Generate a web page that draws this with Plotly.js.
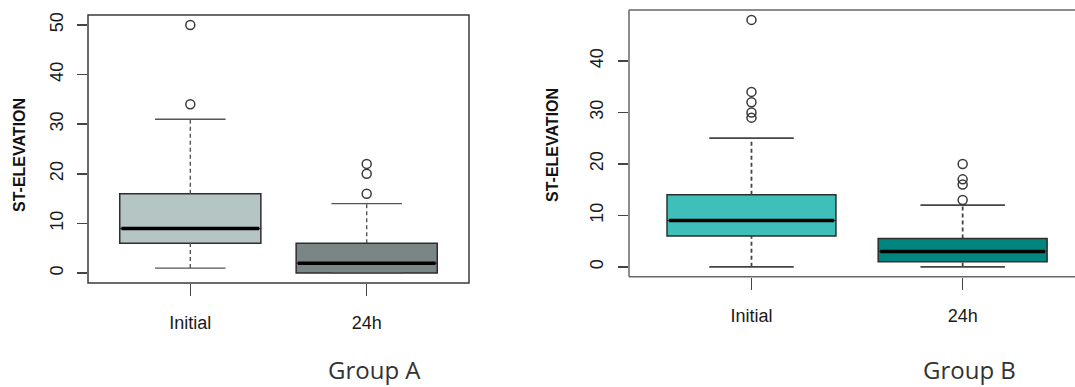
<!DOCTYPE html>
<html>
<head>
<meta charset="utf-8">
<script src="https://cdn.plot.ly/plotly-3.0.1.min.js"></script>
<style>html,body{margin:0;padding:0;background:#fff;}#chart{width:1075px;height:387px;}</style>
</head>
<body>
<div id="chart"></div>
<script>
// ---- data ----
const categories = ['Initial', '24h'];
const positions = [1, 2];
const yTitle = 'ST-ELEVATION';
const groupNames = ['Group A', 'Group B'];

// Group A
const groupA_q1 = [6, 0];
const groupA_median = [9, 2];
const groupA_q3 = [16, 6];
const groupA_lowerWhisker = [1, 0];
const groupA_upperWhisker = [31, 14];
const groupA_outliers = [[34, 50], [16, 20, 22]];

// Group B
const groupB_q1 = [6, 1];
const groupB_median = [9, 3];
const groupB_q3 = [14, 5.5];
const groupB_lowerWhisker = [0, 0];
const groupB_upperWhisker = [25, 12];
const groupB_outliers = [[29, 30, 32, 34, 48], [13, 16, 17, 20]];

// ---- styles ----
const fillA = ['#b5c5c4', '#7a8685'];
const fillB = ['#3ebfb9', '#00867f'];
const boxHalf = 0.4, capHalf = 0.2;

function panel(xa, ya, q1, med, q3, lo, hi, outl, fills, whiskerColor, whiskerWidth) {
  const t = [];
  for (let i = 0; i < categories.length; i++) {
    const p = positions[i];
    t.push({type:'scatter', mode:'lines', xaxis:xa, yaxis:ya, x:[p,p], y:[q3[i],hi[i]],
      line:{color:whiskerColor, width:whiskerWidth, dash:'4px,3px'}, hoverinfo:'skip', showlegend:false});
    t.push({type:'scatter', mode:'lines', xaxis:xa, yaxis:ya, x:[p,p], y:[lo[i],q1[i]],
      line:{color:whiskerColor, width:whiskerWidth, dash:'4px,3px'}, hoverinfo:'skip', showlegend:false});
    t.push({type:'scatter', mode:'lines', xaxis:xa, yaxis:ya, x:[p-capHalf,p+capHalf,null,p-capHalf,p+capHalf], y:[hi[i],hi[i],null,lo[i],lo[i]],
      line:{color:whiskerColor, width:whiskerWidth}, hoverinfo:'skip', showlegend:false});
    t.push({type:'box', xaxis:xa, yaxis:ya, x:[p], q1:[q1[i]], median:[med[i]], q3:[q3[i]],
      lowerfence:[q1[i]], upperfence:[q3[i]], width:2*boxHalf, whiskerwidth:0,
      fillcolor:fills[i], line:{color:'#2e2e2e', width:1.5}, boxpoints:false, hoverinfo:'skip', showlegend:false});
    t.push({type:'scatter', mode:'lines', xaxis:xa, yaxis:ya, x:[p-boxHalf+0.01,p+boxHalf-0.01], y:[med[i],med[i]],
      line:{color:'#000', width:3.5}, hoverinfo:'skip', showlegend:false});
    t.push({type:'scatter', mode:'markers', xaxis:xa, yaxis:ya, x:outl[i].map(()=>p), y:outl[i],
      marker:{symbol:'circle-open', size:9, color:'#3a3a3a', line:{width:1.5, color:'#3a3a3a'}}, hoverinfo:'skip', showlegend:false});
  }
  return t;
}

const traces = [].concat(
  panel('x','y', groupA_q1, groupA_median, groupA_q3, groupA_lowerWhisker, groupA_upperWhisker, groupA_outliers, fillA, '#555', 1.4),
  panel('x2','y2', groupB_q1, groupB_median, groupB_q3, groupB_lowerWhisker, groupB_upperWhisker, groupB_outliers, fillB, '#444', 1.8)
);

const tickFont = {family:'"Liberation Sans", Arial, sans-serif', size:18, color:'#1a1a1a'};
const xCommon = {tickvals:positions, ticktext:categories, showgrid:false, zeroline:false, showline:false,
  ticks:'outside', ticklen:12, tickcolor:'#444', tickwidth:1.5, tickfont:tickFont, fixedrange:true};
const yCommon = {dtick:10, tick0:0, showgrid:false, zeroline:false, showline:false,
  ticks:'outside', ticklen:10, tickcolor:'#444', tickwidth:1.5, tickfont:tickFont, tickangle:-90, fixedrange:true};

const W = 1075, H = 387;
const layout = {
  width:W, height:H, margin:{l:0,r:0,t:0,b:0}, paper_bgcolor:'#fff', plot_bgcolor:'#fff', showlegend:false,
  xaxis: Object.assign({}, xCommon, {domain:[88/W, 469/W], range:[0.42, 2.58], anchor:'y', ticklabelstandoff:11}),
  yaxis: Object.assign({}, yCommon, {domain:[1-283/H, 1-15/H], range:[-2, 52], anchor:'x', ticklabelstandoff:7}),
  xaxis2: Object.assign({}, xCommon, {domain:[629/W, 1], range:[0.42, 2.532], anchor:'y2', ticklabelstandoff:11}),
  yaxis2: Object.assign({}, yCommon, {domain:[1-276.7/H, 1-10/H], range:[-1.92, 49.92], anchor:'x2', ticklabelstandoff:8}),
  shapes: [
    {type:'rect', xref:'x domain', yref:'y domain', x0:0, x1:1, y0:0, y1:1, line:{color:'#3a3a3a', width:1.5}, layer:'above'},
    {type:'line', xref:'x2 domain', yref:'y2 domain', x0:0, x1:1.01, y0:1, y1:1, line:{color:'#666', width:1.5}, layer:'above'},
    {type:'line', xref:'x2 domain', yref:'y2 domain', x0:0, x1:1.01, y0:0, y1:0, line:{color:'#666', width:1.5}, layer:'above'},
    {type:'line', xref:'x2 domain', yref:'y2 domain', x0:0, x1:0, y0:0, y1:1, line:{color:'#666', width:1.5}, layer:'above'}
  ],
  annotations: [
    {text:'<b>'+yTitle+'</b>', xref:'paper', yref:'paper', x:19/W, y:1-155/H, xanchor:'center', yanchor:'middle', textangle:-90, showarrow:false,
      font:{family:'"Liberation Sans", Arial, sans-serif', size:16, color:'#111'}},
    {text:'<b>'+yTitle+'</b>', xref:'paper', yref:'paper', x:552/W, y:1-145/H, xanchor:'center', yanchor:'middle', textangle:-90, showarrow:false,
      font:{family:'"Liberation Sans", Arial, sans-serif', size:16, color:'#111'}},
    {text:groupNames[0], xref:'paper', yref:'paper', x:374/W, y:1-369/H, xanchor:'center', yanchor:'middle', showarrow:false,
      font:{family:'"Open Sans", "Noto Sans", sans-serif', size:24, color:'#333'}},
    {text:groupNames[1], xref:'paper', yref:'paper', x:969/W, y:1-369/H, xanchor:'center', yanchor:'middle', showarrow:false,
      font:{family:'"Open Sans", "Noto Sans", sans-serif', size:24, color:'#333'}}
  ]
};

Plotly.newPlot('chart', traces, layout, {staticPlot:true, displayModeBar:false});
</script>
</body>
</html>
